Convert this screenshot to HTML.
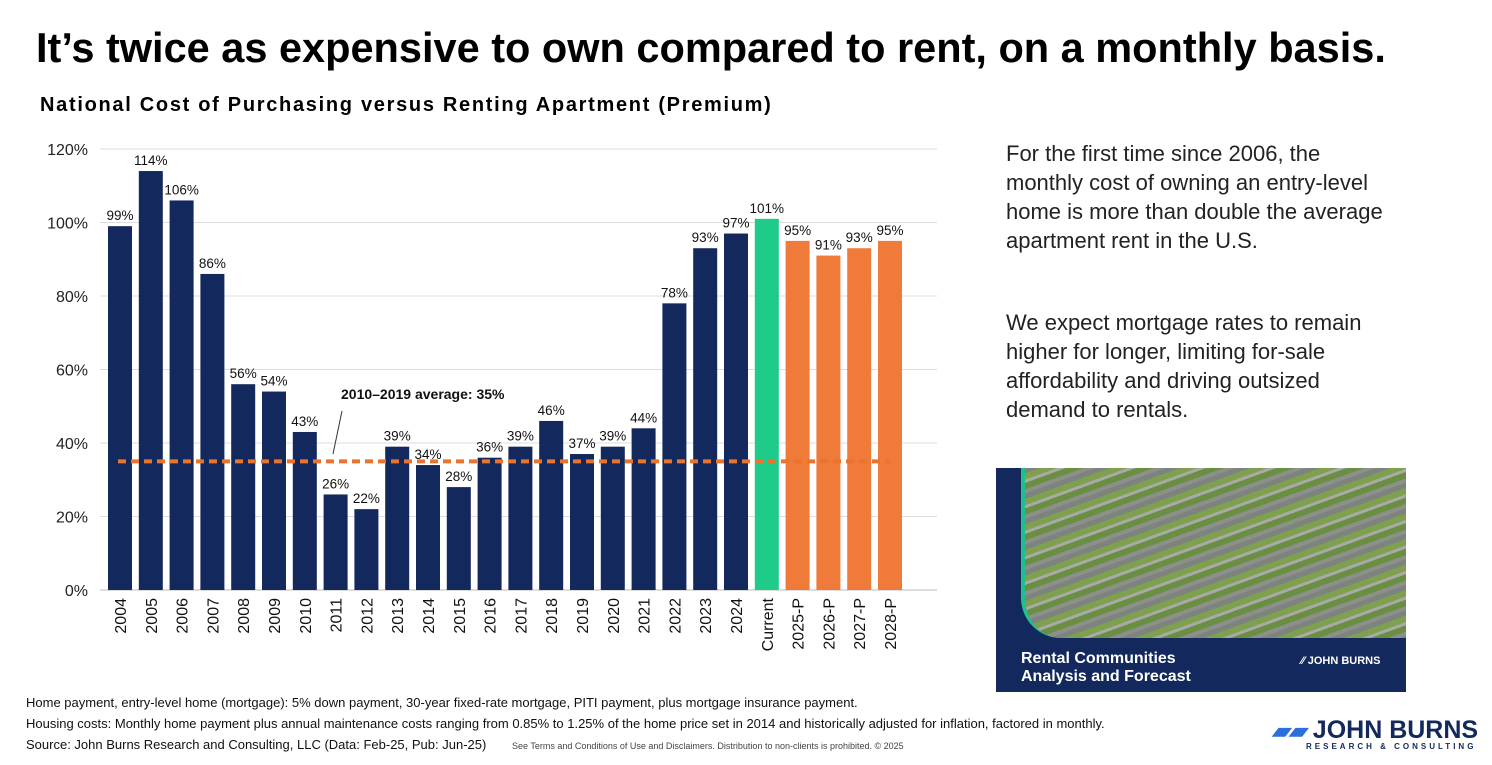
<!DOCTYPE html>
<html><head><meta charset="utf-8">
<style>
body{margin:0;width:1492px;height:765px;background:#fff;font-family:"Liberation Sans",sans-serif;position:relative;overflow:hidden;color:#000}
.abs{position:absolute}
</style></head>
<body>
<div class="abs" style="left:36px;top:24px;font-size:41.5px;font-weight:bold;white-space:nowrap">It’s twice as expensive to own compared to rent, on a monthly basis.</div>
<div class="abs" style="left:40px;top:94px;font-size:20px;letter-spacing:1.7px;font-weight:bold;white-space:nowrap">National Cost of Purchasing versus Renting Apartment (Premium)</div>
<svg class="abs" style="left:0;top:0" width="960" height="690" id="chart"></svg>
<div class="abs" style="left:1006px;top:139px;font-size:22px;line-height:29px;color:#222;white-space:nowrap">For the first time since 2006, the<br>monthly cost of owning an entry-level<br>home is more than double the average<br>apartment rent in the U.S.</div>
<div class="abs" style="left:1006px;top:308px;font-size:22px;line-height:29px;color:#222;white-space:nowrap">We expect mortgage rates to remain<br>higher for longer, limiting for-sale<br>affordability and driving outsized<br>demand to rentals.</div>
<div class="abs" style="left:996px;top:468px;width:410px;height:224px;background:#13285c;overflow:hidden">
 <div class="abs" style="left:25px;top:0;width:385px;height:170px;border-bottom-left-radius:40px;border-left:4px solid #1fc08e;background:repeating-linear-gradient(160deg,#7d847d 0 5px,#7fa04e 5px 11px,#a8aaa8 11px 14px,#6a8f42 14px 20px,#8c8f8a 20px 24px),#7a8a66"></div>
 <div class="abs" style="left:25px;top:182px;color:#fff;font-weight:bold;font-size:16px;line-height:18px">Rental Communities<br>Analysis and Forecast</div>
 <div class="abs" style="left:305px;top:187px;color:#fff;font-weight:bold;font-size:11px">⁄⁄ JOHN BURNS</div>
</div>
<div class="abs" style="left:26px;top:692px;font-size:13px;line-height:21px;color:#111">Home payment, entry-level home (mortgage): 5% down payment, 30-year fixed-rate mortgage, PITI payment, plus mortgage insurance payment.<br>Housing costs: Monthly home payment plus annual maintenance costs ranging from 0.85% to 1.25% of the home price set in 2014 and historically adjusted for inflation, factored in monthly.<br>Source: John Burns Research and Consulting, LLC (Data: Feb-25, Pub: Jun-25)</div>
<div class="abs" style="left:512px;top:741px;font-size:9px;color:#444">See Terms and Conditions of Use and Disclaimers. Distribution to non-clients is prohibited. © 2025</div>
<div class="abs" style="left:1272px;top:716px;color:#13285c;font-weight:bold">
 <span style="color:#2a6fdc;font-size:22px;font-style:italic">▰▰</span><span style="font-size:25px"> JOHN BURNS</span>
 <div style="font-size:8px;letter-spacing:3px;margin-left:34px;margin-top:-3px">RESEARCH &amp; CONSULTING</div>
</div>
<script>
const categories=["2004","2005","2006","2007","2008","2009","2010","2011","2012","2013","2014","2015","2016","2017","2018","2019","2020","2021","2022","2023","2024","Current","2025-P","2026-P","2027-P","2028-P"];
const values=[99,114,106,86,56,54,43,26,22,39,34,28,36,39,46,37,39,44,78,93,97,101,95,91,93,95];
const kinds=["h","h","h","h","h","h","h","h","h","h","h","h","h","h","h","h","h","h","h","h","h","c","p","p","p","p"];
const yTicks=[0,20,40,60,80,100,120];
const average=[35];
const NS="http://www.w3.org/2000/svg";
const svg=document.getElementById('chart');
const y0=590,pxPer=(590-149)/120;
const y=v=>y0-v*pxPer;
const x=i=>108+i*30.8;
const bw=24;
function mk(t,a){const e=document.createElementNS(NS,t);for(const k in a)e.setAttribute(k,a[k]);svg.appendChild(e);return e;}
yTicks.forEach(t=>{
 const l=mk('line',{x1:100,x2:937,y1:y(t),y2:y(t),stroke:t===0?'#bbb':'#ddd','stroke-width':1});
 
 
 const tx=mk('text',{x:88,y:y(t)+6,'text-anchor':'end','font-size':16,fill:'#222','font-family':'Liberation Sans'});
 tx.textContent=t+'%';
 
 
});
const col={h:'#13285c',c:'#1fcb88',p:'#f07a3a'};
values.forEach((v,i)=>{
 const r=mk('rect',{x:x(i),y:y(v),width:bw,height:y0-y(v),fill:col[kinds[i]]});
 
 
 const lb=mk('text',{x:x(i)+bw/2,y:y(v)-6,'text-anchor':'middle','font-size':13.5,fill:'#111','font-family':'Liberation Sans'});
 lb.textContent=v+'%';
 
 
 const cx=x(i)+bw/2+6,cy=598;
 const ct=mk('text',{x:cx,y:cy,'text-anchor':'end','font-size':16,fill:'#111','font-family':'Liberation Sans',transform:`rotate(-90 ${cx} ${cy})`});
 ct.textContent=categories[i];
 
 
});
const al=mk('line',{x1:118,x2:890,y1:y(average[0]),y2:y(average[0]),stroke:'#e8742e','stroke-width':4,'stroke-dasharray':'8 5'});


const ll=mk('line',{x1:342,x2:333,y1:411,y2:454,stroke:'#333','stroke-width':1});


const at=mk('text',{x:341,y:399,'font-size':14,'font-weight':'bold',fill:'#111','font-family':'Liberation Sans'});
at.textContent='2010–2019 average: '+average[0]+'%';


</script>
</body></html>
